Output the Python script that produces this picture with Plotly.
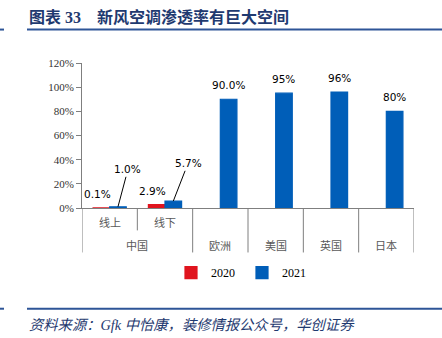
import plotly.graph_objects as go

# ---------------- data ----------------
groups = ["中国", "中国", "欧洲", "美国", "英国", "日本"]
subcats = ["线上", "线下", "", "", "", ""]
series_names = ["2020", "2021"]
values_2020 = [0.1, 2.9, None, None, None, None]
values_2021 = [1.0, 5.7, 90.0, 95.0, 96.0, 80.0]
labels_2020 = ["0.1%", "2.9%", "", "", "", ""]
labels_2021 = ["1.0%", "5.7%", "90.0%", "95%", "96%", "80%"]
y_ticks = [0, 20, 40, 60, 80, 100, 120]
y_tick_labels = ["0%", "20%", "40%", "60%", "80%", "100%", "120%"]
title_text = "图表 33\u00a0\u00a0\u00a0\u00a0新风空调渗透率有巨大空间"
source_text = "资料来源：Gfk 中怡康，装修情报公众号，华创证券"

# ---------------- layout constants ----------------
W, H = 442, 338
L, R, T, B = 82, 28, 63.3, 130.3
PW, PH = W - L - R, H - T - B
RED = "#E0141E"
BLUE = "#005EB8"
NAVY = "#1F3A70"
LINEBLUE = "#2E5597"
BARGAP = 0.4
half = (1 - BARGAP) / 4  # offset of each bar centre from category centre


def px_x(p):
    return (p - L) / PW


def px_y(p):
    return (H - B - p) / PH


xs = list(range(len(groups)))

fig = go.Figure()
fig.add_trace(go.Bar(x=xs, y=values_2020, name=series_names[0], marker=dict(color=RED, line=dict(color=RED, width=1.2))))
fig.add_trace(go.Bar(x=xs, y=values_2021, name=series_names[1], marker=dict(color=BLUE, line=dict(color=BLUE, width=1.2))))

annotations = []
shapes = []

label_font = dict(family="DejaVu Sans", size=10.5, color="#000000")
# 2020 labels (no leaders)
for i, (v, t) in enumerate(zip(values_2020, labels_2020)):
    if v is None or not t:
        continue
    annotations.append(dict(x=i - half, y=v, xref="x", yref="y", text=t, showarrow=False,
                            yanchor="middle", yshift=13.5, xshift=-4, font=label_font))
# 2021 labels: small ones with leader lines, large ones above bars
leader_offsets = {0: (10, -37.5), 1: (14.7, -37.8)}
for i, (v, t) in enumerate(zip(values_2021, labels_2021)):
    if v is None or not t:
        continue
    if i in leader_offsets:
        ax, ay = leader_offsets[i]
        annotations.append(dict(x=i + half, y=v, xref="x", yref="y", text=t, showarrow=True,
                                arrowhead=0, arrowwidth=1, arrowcolor="#000000", ax=ax, ay=ay,
                                standoff=0, font=label_font))
    else:
        annotations.append(dict(x=i + half, y=v, xref="x", yref="y", text=t, showarrow=False,
                                yanchor="middle", yshift=14.5, font=label_font))

# category axis: dividers and labels
cat_font = dict(family="Noto Sans CJK SC", size=11, color="#595959")
for k in range(len(groups) + 1):
    xpos = k - 0.5
    inner = 0 < k < len(groups) and groups[k - 1] == groups[k]
    shapes.append(dict(type="line", xref="x", yref="paper", x0=xpos, x1=xpos,
                       y0=0, y1=px_y(230 if inner else 252),
                       line=dict(color="#7F7F7F", width=1)))
for i, s in enumerate(subcats):
    if s:
        annotations.append(dict(x=i, y=px_y(222), xref="x", yref="paper", text=s,
                                showarrow=False, xanchor="center", yanchor="middle", font=cat_font))
# group labels centred over their members
seen = []
for g in groups:
    if g not in seen:
        seen.append(g)
for g in seen:
    idx = [i for i, gg in enumerate(groups) if gg == g]
    annotations.append(dict(x=sum(idx) / len(idx), y=px_y(245), xref="x", yref="paper", text=g,
                            showarrow=False, xanchor="center", yanchor="middle", font=cat_font))

# title and source
annotations.append(dict(x=px_x(27), y=px_y(17), xref="paper", yref="paper", text=title_text,
                        showarrow=False, xanchor="left", yanchor="middle",
                        font=dict(family="Liberation Serif, Noto Sans CJK SC", size=16,
                                  color=NAVY, weight="bold")))
annotations.append(dict(x=px_x(27), y=px_y(324), xref="paper", yref="paper", text=source_text,
                        showarrow=False, xanchor="left", yanchor="middle",
                        font=dict(family="Liberation Serif, Noto Sans CJK SC", size=14.3,
                                  color=NAVY, style="italic")))
for yy in (30, 308):
    shapes.append(dict(type="line", xref="paper", yref="paper", x0=px_x(27), x1=px_x(442),
                       y0=px_y(yy), y1=px_y(yy), line=dict(color=LINEBLUE, width=2)))
    shapes.append(dict(type="line", xref="paper", yref="paper", x0=px_x(0), x1=px_x(4),
                       y0=px_y(yy), y1=px_y(yy), line=dict(color=LINEBLUE, width=2)))

fig.update_layout(
    width=W, height=H,
    margin=dict(l=L, r=R, t=T, b=B, pad=0),
    paper_bgcolor="white", plot_bgcolor="white",
    barmode="group", bargap=BARGAP, bargroupgap=0,
    showlegend=True,
    legend=dict(orientation="h", x=px_x(171), y=px_y(272), xanchor="left", yanchor="middle",
                font=dict(family="Liberation Serif", size=12, color="#000000"),
                entrywidth=26, itemwidth=30, bgcolor="rgba(0,0,0,0)", tracegroupgap=0),
    xaxis=dict(range=[-0.5, len(groups) - 0.5], showticklabels=False, ticks="",
               showline=True, linecolor="#7F7F7F", linewidth=1, showgrid=False, zeroline=False,
               fixedrange=True),
    yaxis=dict(range=[0, 120], tickmode="array", tickvals=y_ticks, ticktext=y_tick_labels,
               ticks="outside", ticklen=5,
               tickcolor="#7F7F7F", showline=True, linecolor="#7F7F7F", linewidth=1,
               showgrid=False, zeroline=False,
               tickfont=dict(family="Liberation Serif", size=11, color="#333333"),
               fixedrange=True),
    annotations=annotations,
    shapes=shapes,
)

fig.write_html("out.html")
